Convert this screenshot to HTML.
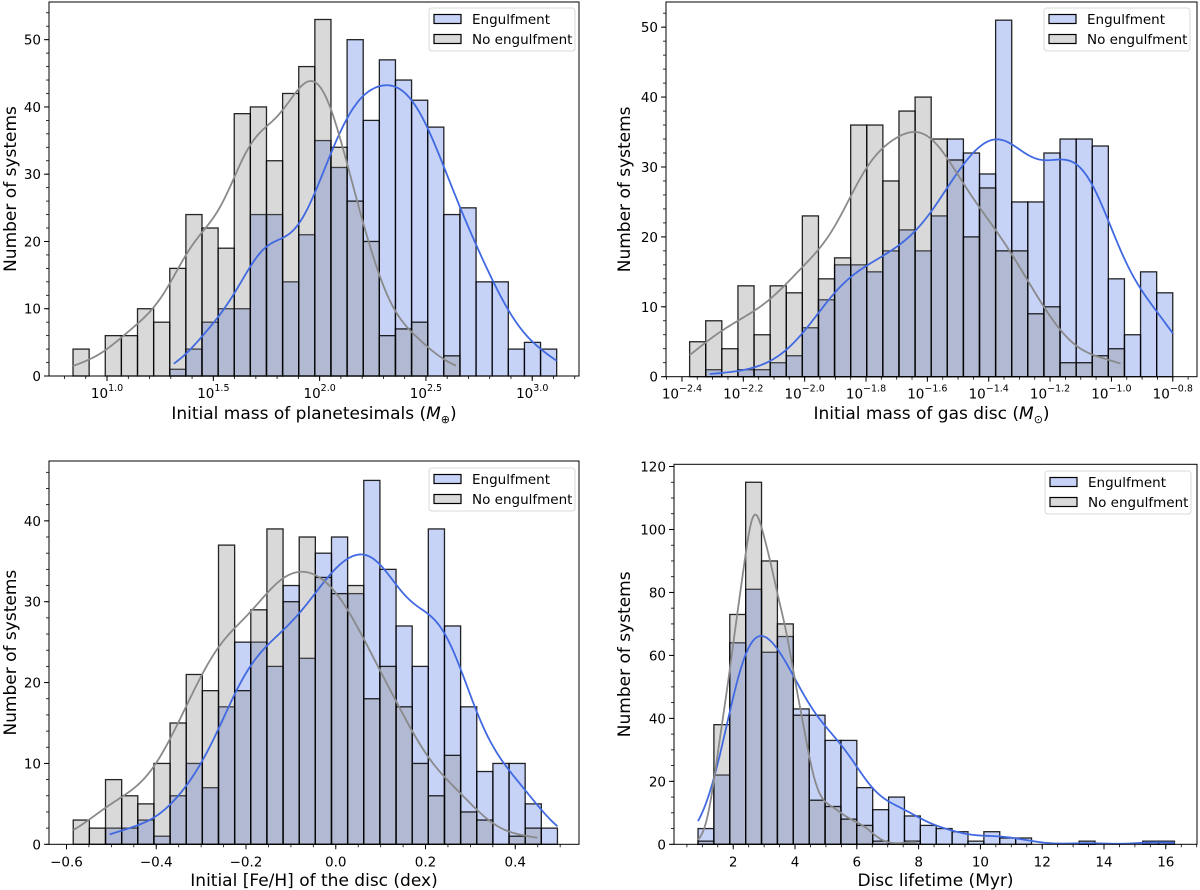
<!DOCTYPE html>
<html><head><meta charset="utf-8">
<style>
html,body{margin:0;padding:0;background:#fff;}
svg{display:block;font-family:"DejaVu Sans","Liberation Sans",sans-serif;}
</style></head>
<body>
<svg id="fig" width="1200" height="890" viewBox="0 0 1200 890"></svg>
<script>
// ---- Panel 1: initial mass of planetesimals (log10 M_earth) ----
const p1Engulf = [0,0,0,0,0,0,1,4,8,10,10,24,24,14,21,35,31,50,38,47,44,41,37,24,25,14,14,4,5,4];
const p1NoEngulf = [4,0,6,6,10,8,16,24,22,19,39,40,32,42,46,53,34,26,20,6,7,8,0,3,0,0,0,0,0,0];
const p1XTicks = [1.0,1.5,2.0,2.5,3.0];
const p1XTickLabels = ["1.0","1.5","2.0","2.5","3.0"];
const p1YTicks = [0,10,20,30,40,50];
// ---- Panel 2: initial mass of gas disc (log10 M_sun) ----
const p2Engulf = [0,1,0,1,1,2,3,7,11,16,16,15,18,21,18,23,34,32,29,51,25,25,32,34,34,33,14,6,15,12];
const p2NoEngulf = [5,8,4,13,6,13,12,23,14,17,36,36,28,38,40,34,31,20,27,18,18,9,10,2,2,3,4,0,0,0];
const p2XTicks = [-2.4,-2.2,-2.0,-1.8,-1.6,-1.4,-1.2,-1.0,-0.8];
const p2XTickLabels = ["\u22122.4","\u22122.2","\u22122.0","\u22121.8","\u22121.6","\u22121.4","\u22121.2","\u22121.0","\u22120.8"];
const p2YTicks = [0,10,20,30,40,50];
// ---- Panel 3: initial [Fe/H] ----
const p3Engulf = [0,0,2,2,3,1,6,10,7,17,25,25,22,32,23,36,38,31,45,34,27,22,39,27,17,9,10,10,5,2];
const p3NoEngulf = [3,2,8,6,5,10,15,21,19,37,19,29,39,30,38,33,31,32,18,22,17,10,6,11,4,3,0,1,2,0];
const p3XTicks = [-0.6,-0.4,-0.2,0.0,0.2,0.4];
const p3XTickLabels = ["\u22120.6","\u22120.4","\u22120.2","0.0","0.2","0.4"];
const p3YTicks = [0,10,20,30,40];
// ---- Panel 4: disc lifetime (Myr) ----
const p4Engulf = [5,22,64,81,61,66,43,41,33,33,18,11,15,9,6,5,4,1,4,2,2,0,0,0,1,0,0,0,1,1];
const p4NoEngulf = [1,38,73,115,90,70,41,14,12,8,6,1,0,1,0,0,0,0,0,0,0,0,0,0,0,0,0,0,0,0];
const p4XTicks = [2,4,6,8,10,12,14,16];
const p4XTickLabels = ["2","4","6","8","10","12","14","16"];
const p4YTicks = [0,20,40,60,80,100,120];

const NS = "http://www.w3.org/2000/svg";
const svg = document.getElementById("fig");
function mk(tag, attrs, parent){
  const e = document.createElementNS(NS, tag);
  for (const k in attrs) e.setAttribute(k, attrs[k]);
  (parent||svg).appendChild(e);
  return e;
}
function kde(counts, start, w, x){
  let n=0, m=0;
  counts.forEach((c,i)=>{n+=c; m+=c*(start+(i+0.5)*w);});
  m/=n;
  let v=0;
  counts.forEach((c,i)=>{const d=start+(i+0.5)*w-m; v+=c*d*d;});
  v = v/(n-1) + w*w/12;
  const h = Math.sqrt(v)*Math.pow(n,-0.2);
  let s=0;
  counts.forEach((c,i)=>{const d=(x-(start+(i+0.5)*w))/h; s+=c*Math.exp(-0.5*d*d);});
  return s*w/(h*Math.sqrt(2*Math.PI));
}
function panel(cfg){
  const g = mk("g",{});
  
  
  const sx = v => cfg.L + (v-cfg.x0)/(cfg.x1-cfg.x0)*(cfg.R-cfg.L);
  const sy = v => cfg.B - (v-cfg.y0)/(cfg.y1-cfg.y0)*(cfg.B-cfg.T);
  const nb = cfg.eng.length;
  const w = (cfg.binEnd-cfg.binStart)/nb;
  const series = [
    {d:cfg.eng, fill:"rgba(65,105,225,0.3)", nm:"engulfment-bar"},
    {d:cfg.noe, fill:"rgba(128,128,128,0.3)", nm:"no-engulfment-bar"}
  ];
  series.forEach(s=>{
    s.d.forEach((c,i)=>{
      if(c<=0) return;
      const xa = sx(cfg.binStart+i*w), xb = sx(cfg.binStart+(i+1)*w);
      const r = mk("rect",{x:xa,y:sy(c),width:xb-xa,height:sy(0)-sy(c),fill:s.fill,stroke:"rgba(0,0,0,0.85)","stroke-width":1.3},g);
      
      
    });
  });
  [{d:cfg.eng,col:"#4169e1",nm:"engulfment-kde-line"},{d:cfg.noe,col:"#8a8a8a",nm:"no-engulfment-kde-line"}].forEach(s=>{
    let f=-1,l=-1;
    s.d.forEach((c,i)=>{if(c>0){if(f<0)f=i;l=i;}});
    let a = cfg.binStart+f*w + (f>0?0.25*w:0);
    let b = cfg.binStart+(l+1)*w - (l<nb-1?0.25*w:0);
    let pts=[];
    for(let k=0;k<=200;k++){const x=a+(b-a)*k/200; pts.push(sx(x).toFixed(2)+","+sy(kde(s.d,cfg.binStart,w,x)).toFixed(2));}
    const p = mk("polyline",{points:pts.join(" "),fill:"none",stroke:s.col,"stroke-width":1.8},g);
    
    
  });
  const fr = mk("rect",{x:cfg.L,y:cfg.T,width:cfg.R-cfg.L,height:cfg.B-cfg.T,fill:"none",stroke:"#000","stroke-width":1},g);
  
  
  cfg.yt.forEach(t=>{
    mk("line",{x1:cfg.L-5,x2:cfg.L,y1:sy(t),y2:sy(t),stroke:"#000","stroke-width":1},g);
    const tx = mk("text",{x:cfg.L-8,y:sy(t)+5,"text-anchor":"end","font-size":13.5,fill:"#000"},g);
    tx.textContent = t;
    
    
  });
  for(let t=cfg.y0;t<=cfg.y1;t+=cfg.ym){
    mk("line",{x1:cfg.L-3,x2:cfg.L,y1:sy(t),y2:sy(t),stroke:"#000","stroke-width":0.8},g);
  }
  for(let t=cfg.xmStart;t<=cfg.x1;t+=cfg.xm){
    if(t<cfg.x0) continue;
    mk("line",{x1:sx(t),x2:sx(t),y1:cfg.B,y2:cfg.B+3,stroke:"#000","stroke-width":0.8},g);
  }
  cfg.xt.forEach((t,i)=>{
    mk("line",{x1:sx(t),x2:sx(t),y1:cfg.B,y2:cfg.B+5,stroke:"#000","stroke-width":1},g);
    const tx = mk("text",{x:sx(t),y:cfg.B+22,"text-anchor":"middle","font-size":13.5,fill:"#000"},g);
    
    
    if(cfg.log){
      tx.appendChild(document.createTextNode("10"));
      const ts = mk("tspan",{dy:-7,"font-size":9.5},tx);
      ts.textContent = cfg.xl[i];
    } else tx.textContent = cfg.xl[i];
  });
  const xl = mk("text",{x:(cfg.L+cfg.R)/2,y:cfg.xLabelY,"text-anchor":"middle","font-size":17,fill:"#000"},g);
  
  
  if(cfg.xLabelSym){
    xl.appendChild(document.createTextNode(cfg.xLabel+" ("));
    const it = mk("tspan",{"font-style":"italic"},xl); it.textContent="M";
    const sub = mk("tspan",{dy:4,"font-size":11},xl); sub.textContent=cfg.xLabelSym;
    const cl = mk("tspan",{dy:-4},xl); cl.textContent=")";
  } else xl.textContent = cfg.xLabel;
  const yc = (cfg.T+cfg.B)/2;
  const yl = mk("text",{x:cfg.yLabelX,y:yc,"text-anchor":"middle","font-size":17,fill:"#000",transform:"rotate(-90 "+cfg.yLabelX+" "+yc+")"},g);
  yl.textContent = "Number of systems";
  
  
  const lg = mk("g",{},g);
  
  
  mk("rect",{x:cfg.lx,y:cfg.ly,width:146,height:43,rx:3,fill:"rgba(255,255,255,0.8)",stroke:"#d8d8d8","stroke-width":1},lg);
  [["Engulfment","rgba(65,105,225,0.3)"],["No engulfment","rgba(128,128,128,0.3)"]].forEach((e,i)=>{
    const cy = cfg.ly+11+i*20;
    const sw = mk("rect",{x:cfg.lx+5,y:cy-4.5,width:27,height:9,fill:e[1],stroke:"#000","stroke-width":1.2},lg);
    
    
    const t = mk("text",{x:cfg.lx+43,y:cy+5,"font-size":13.5,fill:"#000"},lg);
    t.textContent = e[0];
    
    
  });
}
panel({name:"planetesimal-mass-panel",L:49,R:579,T:2,B:376,x0:0.727,x1:3.22,y0:0,y1:55.6,
  binStart:0.84,binEnd:3.115,eng:p1Engulf,noe:p1NoEngulf,xt:p1XTicks,xl:p1XTickLabels,yt:p1YTicks,
  log:true,xm:0.1,xmStart:0.8,ym:2,xLabel:"Initial mass of planetesimals",xLabelSym:"\u2295",xLabelY:419,yLabelX:16,lx:429,ly:8});
panel({name:"gas-disc-mass-panel",L:666,R:1197,T:2,B:376.7,x0:-2.452,x1:-0.721,y0:0,y1:53.6,
  binStart:-2.375,binEnd:-0.8,eng:p2Engulf,noe:p2NoEngulf,xt:p2XTicks,xl:p2XTickLabels,yt:p2YTicks,
  log:true,xm:0.05,xmStart:-2.45,ym:2,xLabel:"Initial mass of gas disc",xLabelSym:"\u2299",xLabelY:419,yLabelX:630,lx:1044,ly:8});
panel({name:"metallicity-panel",L:49,R:579,T:461,B:844.3,x0:-0.639,x1:0.542,y0:0,y1:47.4,
  binStart:-0.585,binEnd:0.494,eng:p3Engulf,noe:p3NoEngulf,xt:p3XTicks,xl:p3XTickLabels,yt:p3YTicks,
  log:false,xm:0.05,xmStart:-0.6,ym:2,xLabel:"Initial [Fe/H] of the disc (dex)",xLabelY:886,yLabelX:16,lx:429,ly:468});
panel({name:"disc-lifetime-panel",L:674,R:1197,T:464.3,B:844.3,x0:0.083,x1:17.01,y0:0,y1:120.7,
  binStart:0.86,binEnd:16.28,eng:p4Engulf,noe:p4NoEngulf,xt:p4XTicks,xl:p4XTickLabels,yt:p4YTicks,
  log:false,xm:0.5,xmStart:0.5,ym:5,xLabel:"Disc lifetime (Myr)",xLabelY:886,yLabelX:630,lx:1045,ly:471});
</script>
</body></html>
